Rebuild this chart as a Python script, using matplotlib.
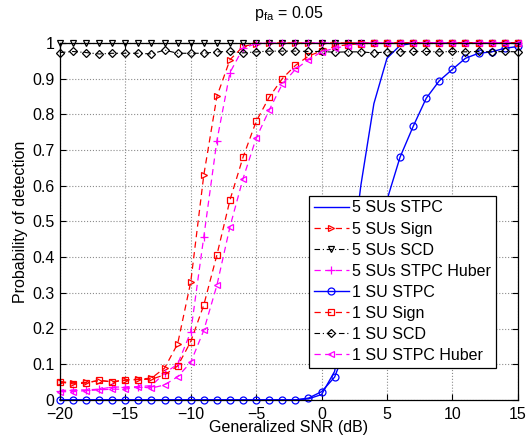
## Curvas de probabilidad de deteccion vs SNR generalizada (pfa = 0.05)

import numpy as np
import matplotlib
matplotlib.use('Agg')
import matplotlib.pyplot as plt

plt.rcParams['font.family'] = ['Liberation Sans', 'DejaVu Sans']
plt.rcParams['mathtext.default'] = 'regular'

# eje x: SNR generalizada en dB
snr = [-20, -19, -18, -17, -16, -15, -14, -13, -12, -11, -10, -9, -8, -7, -6, -5, -4, -3,
       -2, -1, 0, 1, 2, 3, 4, 5, 6, 7, 8, 9, 10, 11, 12, 13, 14, 15]

# 5 SUs
stpc_5 = [0, 0, 0, 0, 0, 0, 0, 0, 0, 0, 0, 0, 0, 0, 0, 0, 0, 0, 0,
          0.003, 0.015, 0.08, 0.3, 0.6, 0.83, 0.957, 0.993, 0.999, 1, 1, 1, 1, 1, 1, 1, 1]
sign_5 = [0.051, 0.048, 0.049, 0.054, 0.051, 0.056, 0.058, 0.061, 0.089, 0.157, 0.33, 0.63,
          0.85, 0.953, 0.99, 0.998, 1, 1, 1, 1, 1, 1, 1, 1, 1, 1, 1, 1, 1, 1, 1, 1, 1, 1, 1, 1]
scd_5 = [1.0] * 36
huber_5 = [0.026, 0.028, 0.028, 0.030, 0.036, 0.036, 0.037, 0.040, 0.075, 0.1, 0.19, 0.457,
           0.726, 0.917, 0.985, 0.998, 1, 1, 1, 1, 1, 1, 1, 1, 1, 1, 1, 1, 1, 1, 1, 1, 1, 1, 1, 1]

# 1 SU
stpc_1 = [0, 0, 0, 0, 0, 0, 0, 0, 0, 0, 0, 0, 0, 0, 0, 0, 0, 0, 0,
          0.005, 0.023, 0.064, 0.16, 0.29, 0.43, 0.56, 0.68, 0.766, 0.845, 0.894, 0.926,
          0.957, 0.971, 0.975, 0.985, 0.99]
sign_1 = [0.05, 0.045, 0.047, 0.055, 0.05, 0.055, 0.057, 0.058, 0.07, 0.095, 0.163, 0.266,
          0.406, 0.56, 0.68, 0.78, 0.848, 0.90, 0.937, 0.963, 0.978, 0.99, 0.995, 0.998,
          1, 1, 1, 1, 1, 1, 1, 1, 1, 1, 1, 1]
scd_1 = [0.973, 0.976, 0.973, 0.969, 0.971, 0.971, 0.971, 0.969, 0.98, 0.971, 0.971, 0.971,
         0.975, 0.976, 0.972, 0.975, 0.977, 0.977, 0.977, 0.976, 0.976, 0.974, 0.975, 0.975,
         0.972, 0.975, 0.975, 0.976, 0.976, 0.975, 0.976, 0.975, 0.976, 0.975, 0.976, 0.975]
huber_1 = [0.023, 0.023, 0.026, 0.028, 0.03, 0.03, 0.037, 0.033, 0.042, 0.065, 0.105, 0.195,
           0.321, 0.485, 0.62, 0.733, 0.812, 0.885, 0.926, 0.953, 0.975, 0.985, 0.992, 0.997,
           1, 1, 1, 1, 1, 1, 1, 1, 1, 1, 1, 1]

etiquetas = ['5 SUs STPC', '5 SUs Sign', '5 SUs SCD', '5 SUs STPC Huber',
             '1 SU STPC', '1 SU Sign', '1 SU SCD', '1 SU STPC Huber']

fs = 11.5

fig = plt.figure(figsize=(5.3, 4.38), dpi=100)
ax = fig.add_axes([0.113, 0.087, 0.864, 0.815])

dash = (5, 3.5)
dashdot = (5, 2.5, 1, 2.5)
ms = 5

ax.plot(snr, stpc_5, color='blue', linestyle='-', lw=1.0, label=etiquetas[0])
ax.plot(snr, sign_5, color='red', dashes=dash, lw=0.9, marker='>', ms=ms,
        mfc='none', mew=0.9, label=etiquetas[1])
ax.plot(snr, scd_5, color='black', dashes=dashdot, lw=0.8, marker='v', ms=ms,
        mfc='none', mew=0.9, label=etiquetas[2])
ax.plot(snr, huber_5, color='magenta', dashes=dash, lw=0.9, marker='+', ms=ms + 1,
        mew=0.9, label=etiquetas[3])
ax.plot(snr, stpc_1, color='blue', linestyle='-', lw=1.0, marker='o', ms=ms,
        mfc='none', mew=0.9, label=etiquetas[4])
ax.plot(snr, sign_1, color='red', dashes=dash, lw=0.9, marker='s', ms=ms - 0.5,
        mfc='none', mew=0.9, label=etiquetas[5])
ax.plot(snr, scd_1, color='black', dashes=dashdot, lw=0.8, marker='D', ms=ms - 0.5,
        mfc='none', mew=0.9, label=etiquetas[6])
ax.plot(snr, huber_1, color='magenta', dashes=dash, lw=0.9, marker='<', ms=ms,
        mfc='none', mew=0.9, label=etiquetas[7])

for ln in ax.get_lines():
    ln.set_clip_on(False)

ax.set_xlim(-20, 15)
ax.set_ylim(0, 1)
ax.set_xticks([-20, -15, -10, -5, 0, 5, 10, 15])
ax.set_yticks([0, 0.1, 0.2, 0.3, 0.4, 0.5, 0.6, 0.7, 0.8, 0.9, 1])
ax.set_yticklabels(['0', '0.1', '0.2', '0.3', '0.4', '0.5', '0.6', '0.7', '0.8', '0.9', '1'])
ax.tick_params(direction='in', top=True, right=True, labelsize=fs, length=4)
ax.tick_params(axis='x', pad=5)
ax.tick_params(axis='y', pad=4)
ax.grid(True, linestyle=':', color='0.55', lw=0.8)
for s in ax.spines.values():
    s.set_linewidth(0.9)

ax.set_xlabel('Generalized SNR (dB)', fontsize=fs, labelpad=-1)
ax.set_ylabel('Probability of detection', fontsize=fs, labelpad=3)
ax.set_title(r'p$_{fa}$ = 0.05', fontsize=fs, pad=18)

leg = ax.legend(loc='lower right', bbox_to_anchor=(0.952, 0.09), fontsize=fs,
                fancybox=False, framealpha=1, edgecolor='black', handlelength=2.2,
                handletextpad=0.2, borderpad=0.3, labelspacing=0.38, borderaxespad=0)
leg.get_frame().set_linewidth(0.9)

fig.savefig('out.png', dpi=100)
